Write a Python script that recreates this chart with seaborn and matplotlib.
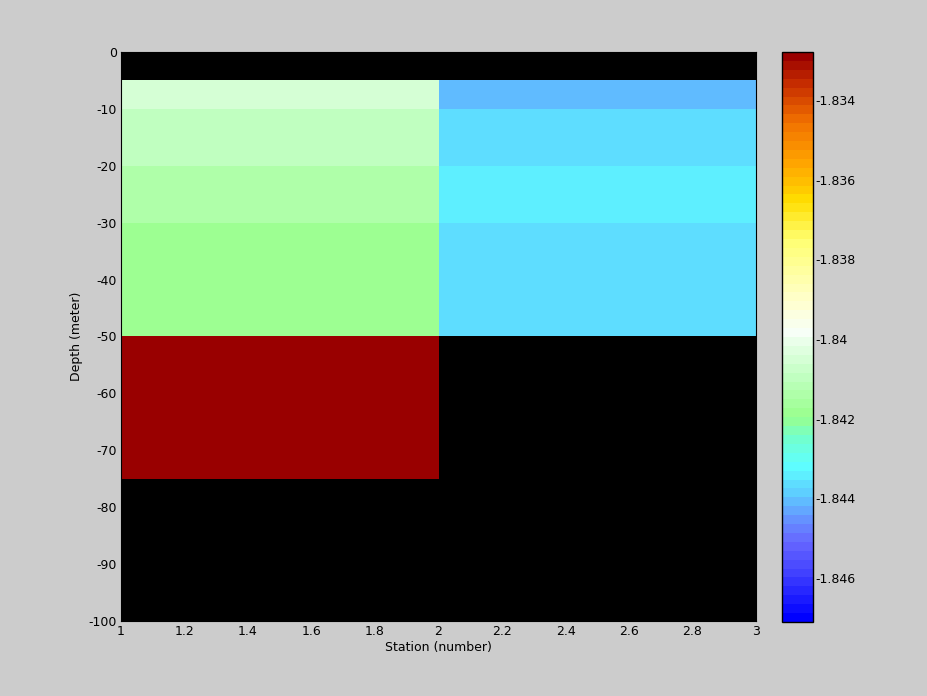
import numpy as np
import matplotlib
matplotlib.use("Agg")
import matplotlib.pyplot as plt
import seaborn as sns
from matplotlib.colors import LinearSegmentedColormap, ListedColormap
from matplotlib.ticker import FuncFormatter

# ---- data ----
station_edges = [1, 2, 3]
depth_edges = [0, -5, -10, -20, -30, -50, -75, -100]
station1_values = [np.nan, -1.8406, -1.8410, -1.8413, -1.8418, -1.8329, np.nan]
station2_values = [np.nan, -1.8440, -1.8437, -1.8434, -1.8437, np.nan, np.nan]
x_ticks = [1, 1.2, 1.4, 1.6, 1.8, 2, 2.2, 2.4, 2.6, 2.8, 3]
y_ticks = [0, -10, -20, -30, -40, -50, -60, -70, -80, -90, -100]
cbar_ticks = [-1.846, -1.844, -1.842, -1.84, -1.838, -1.836, -1.834]
vmin, vmax = -1.8471, -1.8328

sns.set_style("white")
plt.rcParams['font.family'] = ['DejaVu Sans']
plt.rcParams['text.color'] = 'black'
plt.rcParams['axes.labelcolor'] = 'black'
plt.rcParams['xtick.color'] = 'black'
plt.rcParams['ytick.color'] = 'black'

# ---- colormap (blue -> cyan -> green -> white -> yellow -> orange -> dark red) ----
stops = [
    (-1.8471, (0.0, 0.0, 1.0)),
    (-1.8460, (0.25, 0.25, 1.0)),
    (-1.8452, (0.40, 0.40, 1.0)),
    (-1.8447, (0.40, 0.55, 1.0)),
    (-1.8440, (0.37, 0.80, 1.0)),
    (-1.8432, (0.37, 1.00, 1.0)),
    (-1.8425, (0.45, 1.00, 0.80)),
    (-1.8420, (0.60, 1.00, 0.55)),
    (-1.8410, (0.75, 1.00, 0.75)),
    (-1.8398, (0.97, 1.00, 0.97)),
    (-1.8390, (1.00, 1.00, 0.80)),
    (-1.8375, (1.00, 1.00, 0.45)),
    (-1.8365, (1.00, 0.87, 0.0)),
    (-1.8355, (1.00, 0.65, 0.0)),
    (-1.8345, (0.95, 0.45, 0.0)),
    (-1.8335, (0.78, 0.18, 0.0)),
    (-1.8328, (0.60, 0.0, 0.0)),
]
pos = [(v - vmin) / (vmax - vmin) for v, _ in stops]
pos[0], pos[-1] = 0.0, 1.0
base = LinearSegmentedColormap.from_list("custom", list(zip(pos, [c for _, c in stops])))
cmap = ListedColormap(base(np.linspace(0, 1, 64)))
cmap.set_bad("black")

C = np.ma.masked_invalid(np.array([station1_values, station2_values]).T)

fig = plt.figure(figsize=(9.28, 6.96), dpi=100, facecolor="#cccccc")
ax = fig.add_axes([0.1304, 0.1078, 0.6843, 0.8175])
ax.set_facecolor("black")
mesh = ax.pcolormesh(station_edges, depth_edges, C, cmap=cmap, vmin=vmin, vmax=vmax)
ax.set_xlim(1, 3)
ax.set_ylim(-100, 0)
ax.set_xticks(x_ticks)
ax.set_yticks(y_ticks)
fmt = FuncFormatter(lambda v, p: ("%g" % round(v, 6)))
ax.xaxis.set_major_formatter(fmt)
ax.yaxis.set_major_formatter(fmt)
ax.tick_params(direction="in", length=4, colors="black", labelsize=9, pad=3)
for s in ax.spines.values():
    s.set_color("black")
ax.set_xlabel("Station (number)", fontsize=9, labelpad=2, color="black")
ax.set_ylabel("Depth (meter)", fontsize=9, labelpad=4, color="black")

cax = fig.add_axes([0.8427, 0.1063, 0.0334, 0.8190])
cb = fig.colorbar(mesh, cax=cax)
cb.set_ticks(cbar_ticks)
cb.ax.yaxis.set_major_formatter(FuncFormatter(lambda v, p: "%g" % round(v, 6)))
cb.ax.tick_params(direction="in", length=4, labelsize=9, left=True, right=True,
                  pad=2, colors="black")
cb.outline.set_edgecolor("black")
cb.outline.set_linewidth(1)

fig.savefig("out.png", dpi=100, facecolor="#cccccc")
